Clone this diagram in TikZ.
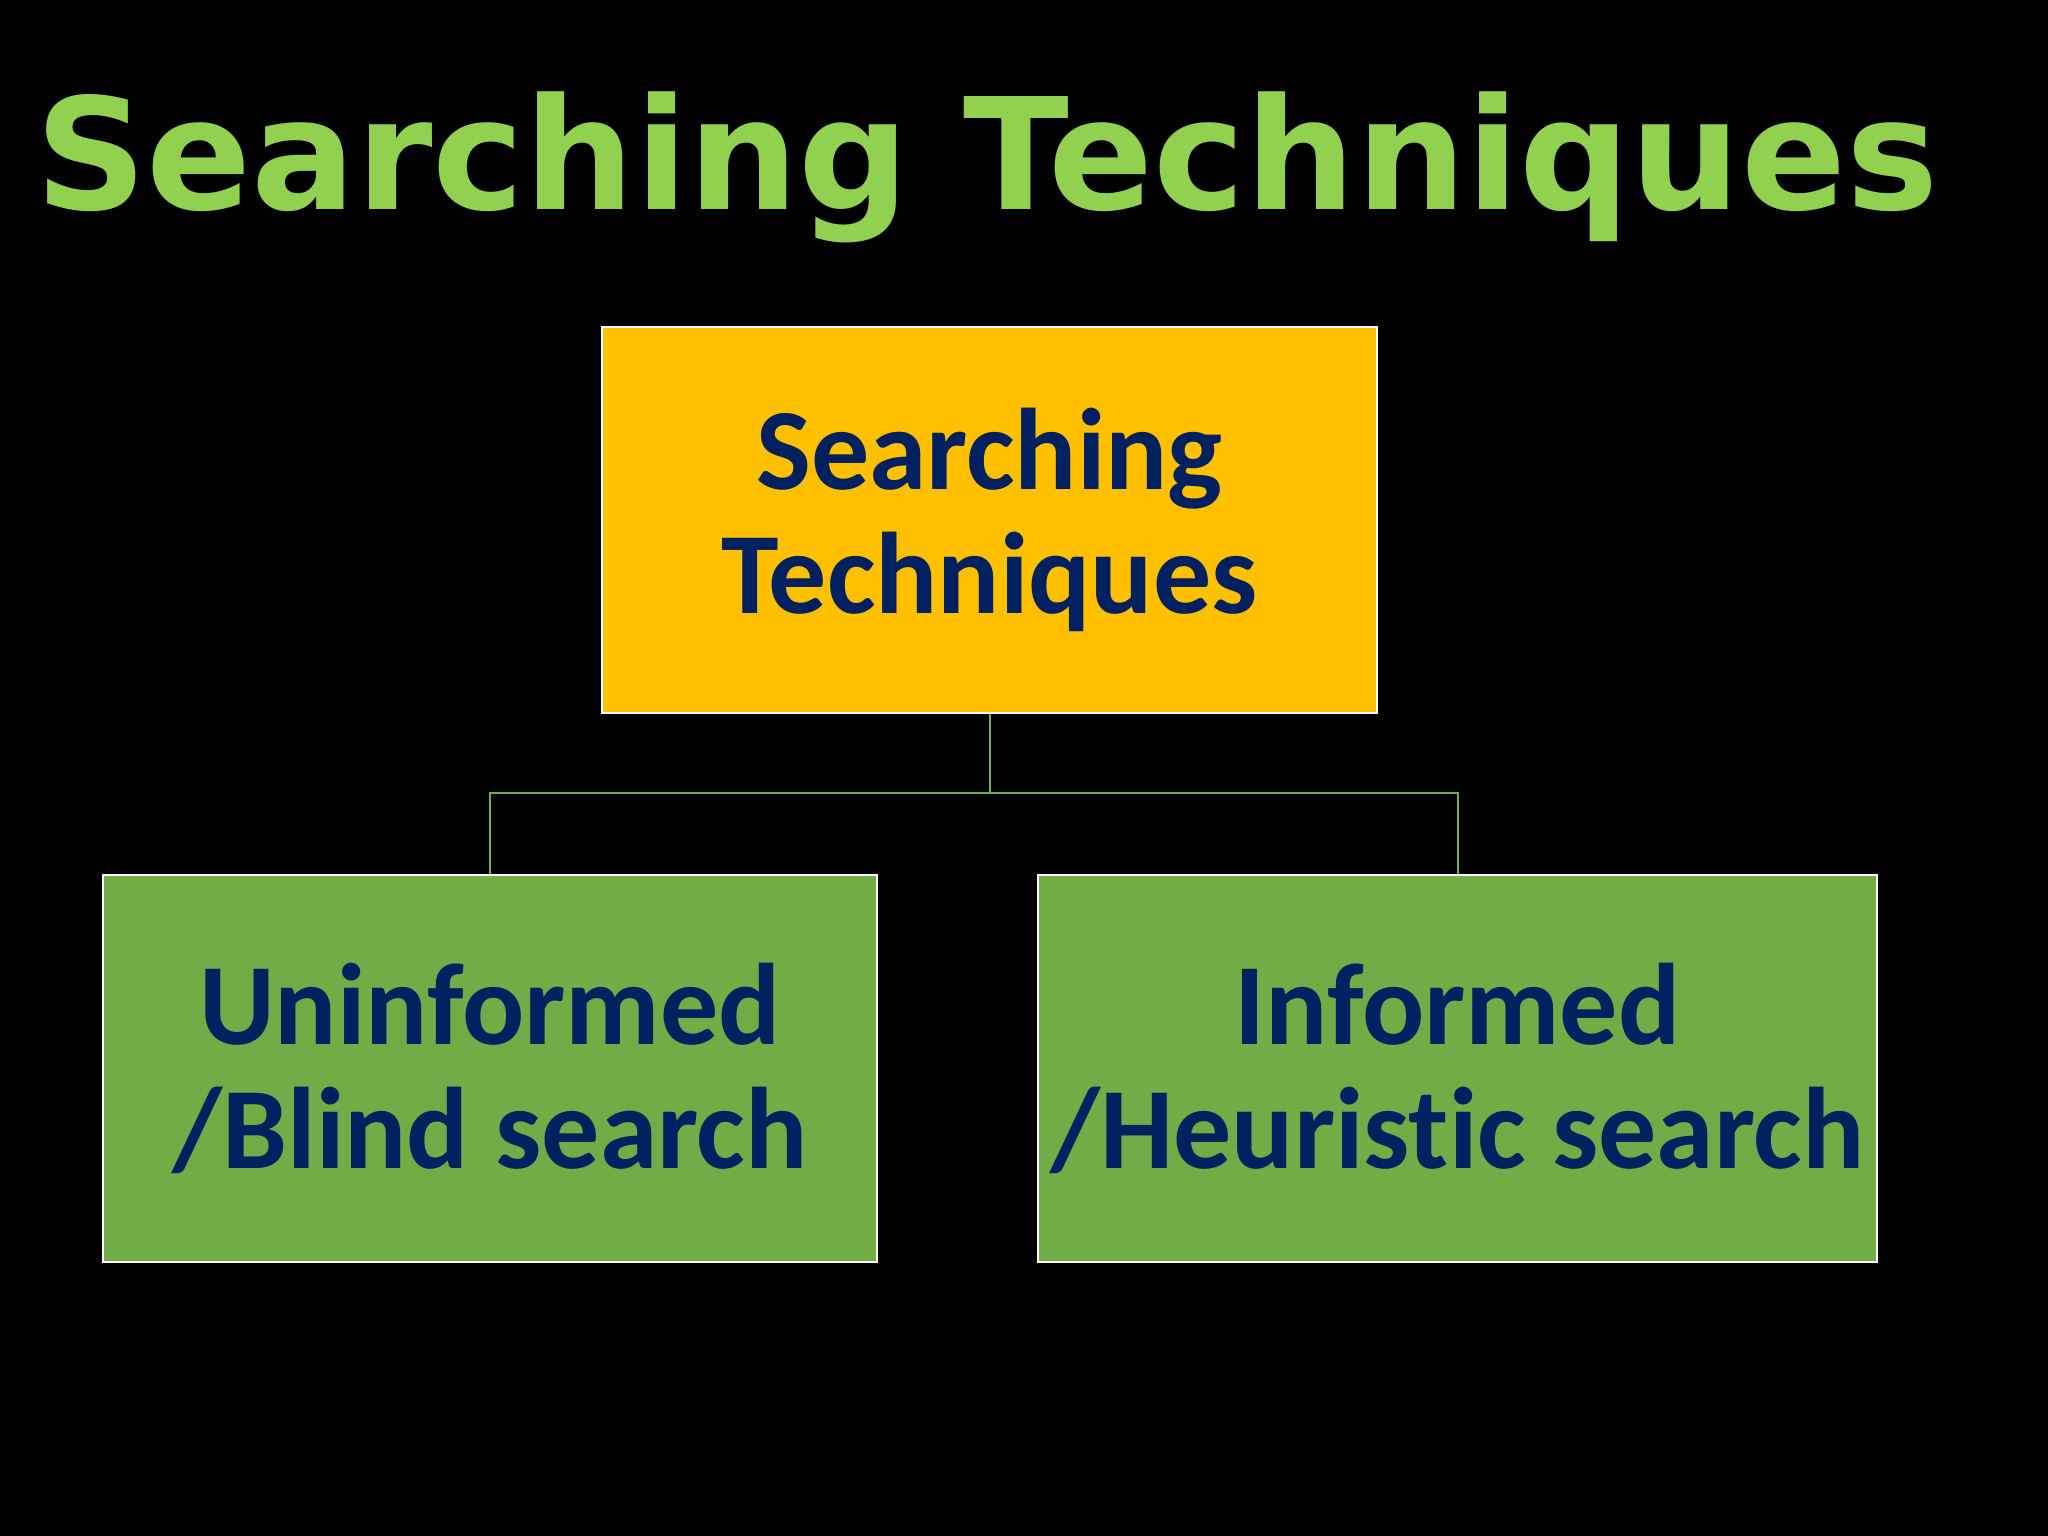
\documentclass[tikz,border=0pt]{standalone}
\usepackage{fontspec}
\setmainfont{Carlito}[Ligatures=NoCommon]
\newfontfamily\titlefont{DejaVu Sans}
\usepackage{tikz}
\definecolor{titlegreen}{HTML}{92D050}
\definecolor{boxgold}{HTML}{FFC000}
\definecolor{boxgreen}{HTML}{70AD47}
\definecolor{navy}{HTML}{002060}

\begin{document}
\begin{tikzpicture}[x=1pt,y=-1pt,
  box/.style={draw=white, line width=2.5pt, text=navy, align=center, inner sep=0pt,
    font=\fontsize{116}{124}\selectfont\bfseries},
  link/.style={draw=boxgreen, line width=2pt}]
	%Fundo
	\fill[black] (0,0) rectangle (2048,1536);
	\useasboundingbox (0,0) rectangle (2048,1536);

	%Titulo
	\node[anchor=base west, inner sep=0pt, text=titlegreen,
	  font=\titlefont\bfseries\fontsize{155}{186}\selectfont] (title) at (35,209) {Searching Techniques};

	%Caixas
	\node[box, fill=boxgold, minimum width=775pt, minimum height=386pt] (root) at (989.5,520) {Searching\\Techniques};
	\node[box, fill=boxgreen, minimum width=774pt, minimum height=387pt] (blind) at (490,1068.5) {Uninformed\\/Blind search};
	\node[box, fill=boxgreen, minimum width=839pt, minimum height=387pt] (heur) at (1457.5,1068.5) {Informed\\/Heuristic search};

	%Ligacoes
	\coordinate (split) at (989.5,793);
	\draw[link] (root.south) -- (split);
	\draw[link] (split) -| (blind.north);
	\draw[link] (split) -| (heur.north);
\end{tikzpicture}
\end{document}
